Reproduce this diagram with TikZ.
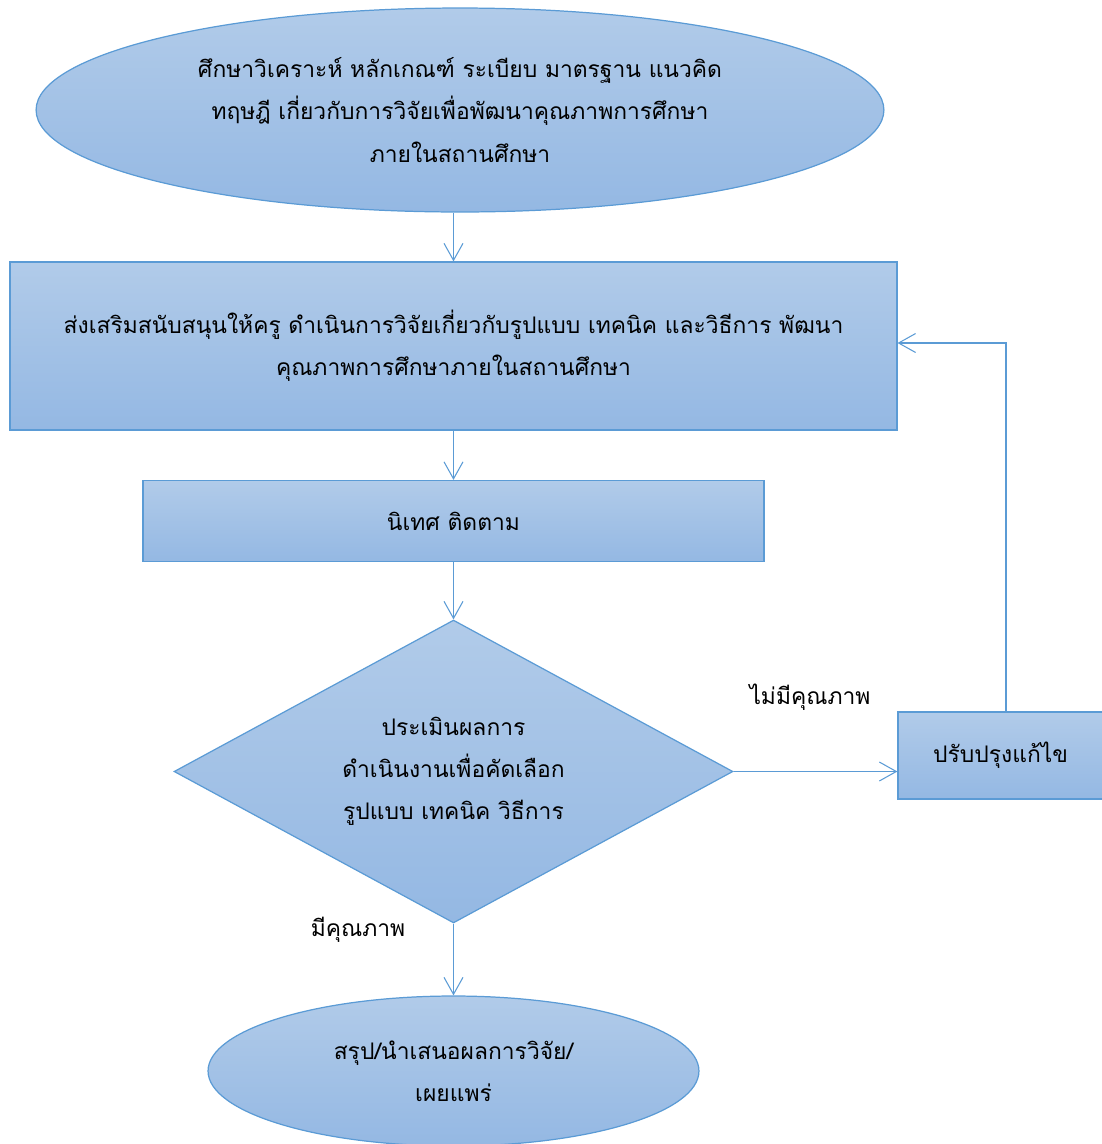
\documentclass[tikz,border=0pt]{standalone}
\usepackage{fontspec}
\usetikzlibrary{shapes.geometric,arrows.meta}
\newfontfamily\thaifont[Script=Thai]{Loma}
\definecolor{boxline}{HTML}{5B9BD5}
\definecolor{boxtop}{HTML}{B1CBE9}
\definecolor{boxbot}{HTML}{94B8E3}

\begin{document}
\begin{tikzpicture}[x=0.02cm,y=-0.02cm,
    every node/.style={font=\thaifont\fontsize{13}{24}\selectfont},
    blk/.style={draw=boxline,line width=0.7pt,top color=boxtop,bottom color=boxbot,
      align=center,inner sep=0pt},
    >={Straight Barb[length=0.34cm,width=0.38cm]},
    flow/.style={->,draw=boxline,line width=0.6pt}]
  \useasboundingbox (0,0) rectangle (1102,1144);
  % steps
  \node [blk,ellipse,minimum width=16.96cm,minimum height=4.08cm] (st) at (460,110)
    {ศึกษาวิเคราะห์ หลักเกณฑ์ ระเบียบ มาตรฐาน แนวคิด\\ทฤษฎี เกี่ยวกับการวิจัยเพื่อพัฒนาคุณภาพการศึกษา\\ภายในสถานศึกษา};
  \node [blk,minimum width=17.74cm,minimum height=3.36cm] (pr) at (453.5,346)
    {ส่งเสริมสนับสนุนให้ครู ดำเนินการวิจัยเกี่ยวกับรูปแบบ เทคนิค และวิธีการ พัฒนา\\คุณภาพการศึกษาภายในสถานศึกษา};
  \node [blk,minimum width=12.42cm,minimum height=1.62cm] (ni) at (453.5,521) {นิเทศ ติดตาม};
  \node [blk,diamond,shape aspect=1.845,minimum width=11.18cm,minimum height=6.06cm] (ev) at (453.5,771.5)
    {ประเมินผลการ\\ดำเนินงานเพื่อคัดเลือก\\รูปแบบ เทคนิค วิธีการ};
  \node [blk,minimum width=4.1cm,minimum height=1.74cm] (im) at (1000.5,755.5) {ปรับปรุงแก้ไข};
  \node [blk,ellipse,minimum width=9.82cm,minimum height=3cm] (su) at (453.5,1071)
    {สรุป/นำเสนอผลการวิจัย/\\เผยแพร่};
  % labels
  \node (no) at (810,697) {ไม่มีคุณภาพ};
  \node (yes) at (358,930) {มีคุณภาพ};
  \coordinate (back) at (1006,343);
  % arrows
  \draw [flow] (pr.north |- st.south) -- (pr.north);
  \draw [flow] (pr) -- (ni);
  \draw [flow] (ni) -- (ev);
  \draw [flow] (ev) -- (su);
  \draw [flow] (ev.east) -- (ev.east -| im.west);
  \draw [flow] (im.north -| back) -- (back) -- (back -| pr.east);
\end{tikzpicture}
\end{document}
